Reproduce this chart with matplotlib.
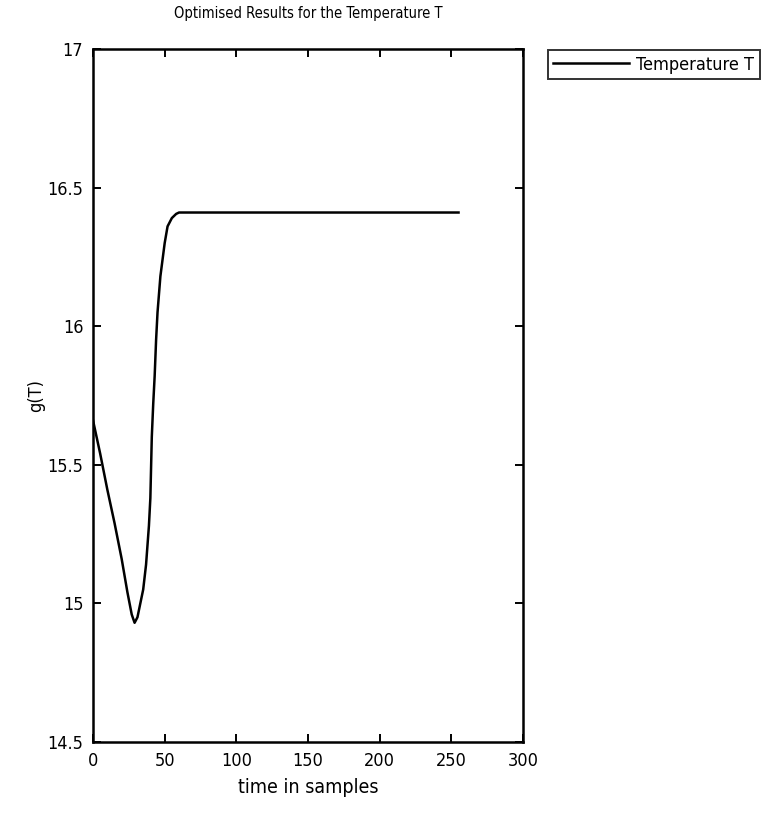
import numpy as np
import matplotlib
matplotlib.use("Agg")
import matplotlib.pyplot as plt

plt.rcParams['font.family'] = ['DejaVu Sans']
plt.rcParams['font.stretch'] = 'condensed'

# optimised temperature trajectory (samples, value)
samples = [0, 5, 10, 15, 20, 24, 27, 29, 31, 33, 35, 37, 39, 40, 41, 42,
           43, 44, 45, 47, 50, 52, 55, 58, 60, 255]
temperature = [15.66, 15.54, 15.41, 15.29, 15.16, 15.04, 14.96, 14.93, 14.95,
               15.00, 15.05, 15.14, 15.28, 15.38, 15.60, 15.72, 15.82, 15.95,
               16.05, 16.18, 16.30, 16.36, 16.39, 16.405, 16.41, 16.41]

xticks = [0, 50, 100, 150, 200, 250, 300]
yticks = [14.5, 15, 15.5, 16, 16.5, 17]
ytick_labels = ['14.5', '15', '15.5', '16', '16.5', '17']

fig = plt.figure(figsize=(7.65, 8.16), dpi=100)
ax = fig.add_axes([0.1216, 0.0907, 0.5621, 0.8493])

ax.plot(samples, temperature, color='black', linewidth=1.8, label='Temperature T')

ax.set_xlim(0, 300)
ax.set_ylim(14.5, 17)
ax.set_xticks(xticks)
ax.set_yticks(yticks)
ax.set_yticklabels(ytick_labels)
ax.tick_params(direction='in', top=True, right=True, length=6, width=1.4,
               labelsize=13, pad=7)
for s in ax.spines.values():
    s.set_linewidth(1.8)

ax.set_title('Optimised Results for the Temperature T', fontsize=10.5, pad=22)
ax.set_xlabel('time in samples', fontsize=14, labelpad=6)
ax.set_ylabel('g(T)', fontsize=13)
ax.yaxis.set_label_coords(-0.112, 0.5)

# legend sits outside the axes, to the right
leg = ax.legend(loc='upper left', bbox_to_anchor=(1.058, 0.998), borderaxespad=0,
                fancybox=False, edgecolor='black', fontsize=13, handlelength=4.2,
                handletextpad=0.4, borderpad=0.3)
leg.get_frame().set_linewidth(1.4)

fig.savefig('out.png', dpi=100)
